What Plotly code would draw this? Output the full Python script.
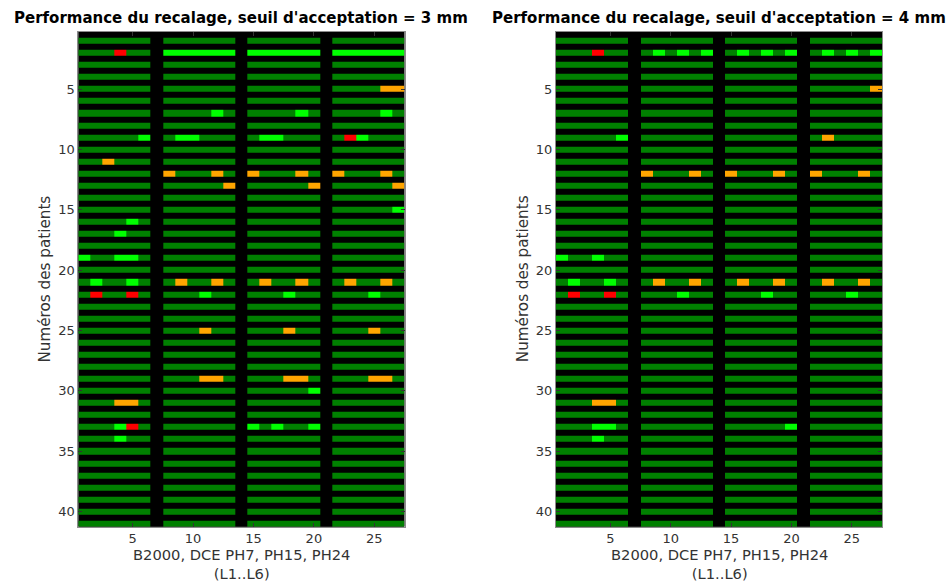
import plotly.graph_objects as go

# ---------------- data ----------------
# codes: 0 = separator (black), 1 = dark green, 2 = light green, 3 = orange, 4 = red
patients = list(range(1, 42))
columns = list(range(1, 28))
x_tick_vals = [5, 10, 15, 20, 25]
y_tick_vals = [5, 10, 15, 20, 25, 30, 35, 40]

# one string per patient: 4 groups (B2000, DCE PH7, PH15, PH24) of 6 levels (L1..L6)
seuil_3mm = [
    "111111 111111 111111 111111",  # 1
    "111411 222222 222222 222222",  # 2
    "111111 111111 111111 111111",  # 3
    "111111 111111 111111 111111",  # 4
    "111111 111111 111111 111133",  # 5
    "111111 111111 111111 111111",  # 6
    "111111 111121 111121 111121",  # 7
    "111111 111111 111111 111111",  # 8
    "111112 122111 122111 142111",  # 9
    "111111 111111 111111 111111",  # 10
    "113111 111111 111111 111111",  # 11
    "111111 311131 311131 311131",  # 12
    "111111 111113 111113 111113",  # 13
    "111111 111111 111111 111111",  # 14
    "111111 111111 111111 111112",  # 15
    "111121 111111 111111 111111",  # 16
    "111211 111111 111111 111111",  # 17
    "111111 111111 111111 111111",  # 18
    "211221 111111 111111 111111",  # 19
    "111111 111111 111111 111111",  # 20
    "121121 131131 131131 131131",  # 21
    "141141 111211 111211 111211",  # 22
    "111111 111111 111111 111111",  # 23
    "111111 111111 111111 111111",  # 24
    "111111 111311 111311 111311",  # 25
    "111111 111111 111111 111111",  # 26
    "111111 111111 111111 111111",  # 27
    "111111 111111 111111 111111",  # 28
    "111111 111331 111331 111331",  # 29
    "111111 111111 111112 111111",  # 30
    "111331 111111 111111 111111",  # 31
    "111111 111111 111111 111111",  # 32
    "111241 111111 212112 111111",  # 33
    "111211 111111 111111 111111",  # 34
    "111111 111111 111111 111111",  # 35
    "111111 111111 111111 111111",  # 36
    "111111 111111 111111 111111",  # 37
    "111111 111111 111111 111111",  # 38
    "111111 111111 111111 111111",  # 39
    "111111 111111 111111 111111",  # 40
    "111111 111111 111111 111111",  # 41
]

seuil_4mm = [
    "111111 111111 111111 111111",  # 1
    "111411 121212 121212 121212",  # 2
    "111111 111111 111111 111111",  # 3
    "111111 111111 111111 111111",  # 4
    "111111 111111 111111 111113",  # 5
    "111111 111111 111111 111111",  # 6
    "111111 111111 111111 111111",  # 7
    "111111 111111 111111 111111",  # 8
    "111112 111111 111111 131111",  # 9
    "111111 111111 111111 111111",  # 10
    "111111 111111 111111 111111",  # 11
    "111111 311131 311131 311131",  # 12
    "111111 111111 111111 111111",  # 13
    "111111 111111 111111 111111",  # 14
    "111111 111111 111111 111111",  # 15
    "111111 111111 111111 111111",  # 16
    "111111 111111 111111 111111",  # 17
    "111111 111111 111111 111111",  # 18
    "211211 111111 111111 111111",  # 19
    "111111 111111 111111 111111",  # 20
    "121121 131131 131131 131131",  # 21
    "141141 111211 111211 111211",  # 22
    "111111 111111 111111 111111",  # 23
    "111111 111111 111111 111111",  # 24
    "111111 111111 111111 111111",  # 25
    "111111 111111 111111 111111",  # 26
    "111111 111111 111111 111111",  # 27
    "111111 111111 111111 111111",  # 28
    "111111 111111 111111 111111",  # 29
    "111111 111111 111111 111111",  # 30
    "111331 111111 111111 111111",  # 31
    "111111 111111 111111 111111",  # 32
    "111221 111111 111112 111111",  # 33
    "111211 111111 111111 111111",  # 34
    "111111 111111 111111 111111",  # 35
    "111111 111111 111111 111111",  # 36
    "111111 111111 111111 111111",  # 37
    "111111 111111 111111 111111",  # 38
    "111111 111111 111111 111111",  # 39
    "111111 111111 111111 111111",  # 40
    "111111 111111 111111 111111",  # 41
]

titles = ["Performance du recalage, seuil d'acceptation = 3 mm",
          "Performance du recalage, seuil d'acceptation = 4 mm"]
x_label = "B2000, DCE PH7, PH15, PH24<br>(L1..L6)"
y_label = "Numéros des patients"


def to_matrix(rows):
    # separator column (code 0) between the four acquisition groups
    return [[int(ch) for ch in "0".join(r.split(" "))] for r in rows]


# ---------------- style ----------------
W, H = 951, 583
BLACK = "#000000"
DK_GREEN = "#008000"
LT_GREEN = "#00FF00"
ORANGE = "#FFA500"
RED = "#FF0000"
colorscale = [
    [0.0, BLACK], [0.125, BLACK],
    [0.125, DK_GREEN], [0.375, DK_GREEN],
    [0.375, LT_GREEN], [0.625, LT_GREEN],
    [0.625, ORANGE], [0.875, ORANGE],
    [0.875, RED], [1.0, RED],
]

x_domains = [[78.3 / W, 404.5 / W], [556.0 / W, 882.0 / W]]
y_domain = [1 - 526.7 / H, 1 - 31.7 / H]
FONT = "DejaVu Sans"
TXT = "#333333"

fig = go.Figure()
for i, data in enumerate([seuil_3mm, seuil_4mm]):
    sfx = "" if i == 0 else "2"
    fig.add_trace(go.Heatmap(
        z=to_matrix(data), x=columns, y=patients,
        zmin=0, zmax=4, colorscale=colorscale, showscale=False,
        ygap=6, xgap=0,
        xaxis="x" + sfx, yaxis="y" + sfx, hoverinfo="skip",
    ))
    axis_common = dict(
        showgrid=False, zeroline=False, showline=True, linecolor="#8c8c8c",
        linewidth=1, mirror="allticks", ticks="inside", ticklen=4,
        tickcolor="#333333", tickwidth=1,
        tickfont=dict(family=FONT, size=13, color=TXT),
    )
    fig.update_layout(**{
        "xaxis" + sfx: dict(domain=x_domains[i], range=[0.5, 27.5],
                            tickvals=x_tick_vals, anchor="y" + sfx, **axis_common),
        "yaxis" + sfx: dict(domain=y_domain, range=[41.25, 0.25],
                            tickvals=y_tick_vals, anchor="x" + sfx, **axis_common),
    })
    cx = (x_domains[i][0] + x_domains[i][1]) / 2
    fig.add_annotation(text="<b>" + titles[i] + "</b>", xref="paper", yref="paper",
                       x=cx, y=1 - 17.5 / H, xanchor="center", yanchor="middle",
                       showarrow=False, font=dict(family=FONT, size=15, color="#000000"))
    fig.add_annotation(text=x_label, xref="paper", yref="paper",
                       x=cx, y=1 - 564 / H, xanchor="center", yanchor="middle",
                       showarrow=False, font=dict(family=FONT, size=14.7, color=TXT))
    fig.add_annotation(text=y_label, xref="paper", yref="paper",
                       x=(x_domains[i][0] * W - 33) / W, y=(y_domain[0] + y_domain[1]) / 2,
                       xanchor="center", yanchor="middle", textangle=-90,
                       showarrow=False, font=dict(family=FONT, size=15.2, color=TXT))

fig.update_layout(
    width=W, height=H, margin=dict(l=0, r=0, t=0, b=0),
    paper_bgcolor="#FFFFFF", plot_bgcolor=BLACK, showlegend=False,
)
fig.write_html(
    "out.html",
    config={"displayModeBar": False},
    post_script="document.body.style.margin='0';document.body.style.overflow='hidden';",
)
